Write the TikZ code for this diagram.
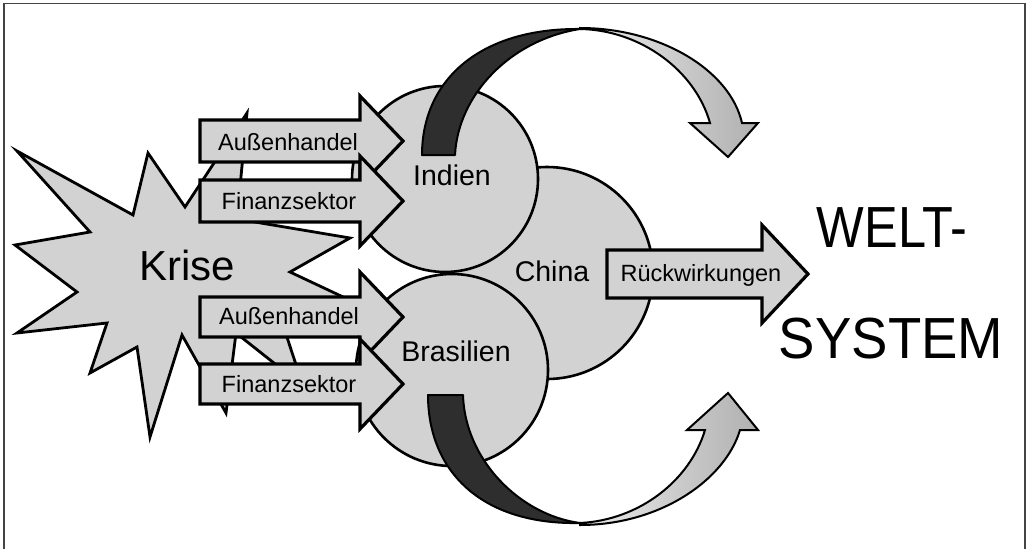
\documentclass[tikz,border=0pt]{standalone}
\usepackage{graphicx}
\usepackage{fontspec}
\setmainfont{Liberation Sans}
\definecolor{lightfill}{HTML}{D2D2D2}
\definecolor{darkband}{HTML}{2E2E2E}
\definecolor{framecol}{HTML}{444444}
\newcommand\blkarrow[6]{%
  \draw[blockarrow] (#1,#4-#5) -- (#2,#4-#5) -- (#2,#4-#6) -- (#3,#4) -- (#2,#4+#6) -- (#2,#4+#5) -- (#1,#4+#5) -- cycle;}
\begin{document}
\begin{tikzpicture}[x=1pt,y=-1pt,
  blob/.style={fill=lightfill,draw=black,line width=2.8pt,line join=miter},
  circ/.style={circle,fill=lightfill,draw=black,line width=2.6pt,inner sep=0pt},
  blockarrow/.style={fill=lightfill,draw=black,line width=3.2pt,line join=miter},
  band/.style={fill=darkband,draw=black,line width=2pt,line join=round},
  grad/.style={left color=gray!15,right color=gray!62,draw=black,line width=2pt,line join=miter},
  lbl/.style={anchor=base,inner sep=0pt,font=\fontsize{23.5}{28}\selectfont},
  clbl/.style={anchor=base,inner sep=0pt,font=\fontsize{28.5}{34}\selectfont},
  big/.style={anchor=base,inner sep=0pt,font=\fontsize{58}{66}\selectfont}]
\useasboundingbox (0,0) rectangle (1032,549);
% frame
\draw[framecol,line width=1.6pt] (4,549) -- (4,3.5) -- (1025,3.5) -- (1025,549);
% star
\draw[blob] (17,151) -- (133,215) -- (148,153) -- (185,207) -- (247,113) -- (237,219)
  -- (350,238) -- (290,272) -- (375,312) -- (282,322) -- (303,386) -- (236,333)
  -- (226,413) -- (182,335) -- (150,437) -- (137,347) -- (90,373) -- (107,323)
  -- (17,333) -- (77,292) -- (15,245) -- (90,232) -- cycle;
% circles
\node[circ,minimum size=212pt] (china) at (547,273) {};
\node[circ,minimum size=186pt] (indien) at (445,179) {};
\node[circ,minimum size=192pt] (brasilien) at (452,370) {};
% curved arrows (top)
\draw[grad] (580,28) .. controls (660,28) and (730,70) .. (742,123) -- (758,123) -- (728,157)
  -- (690,123) -- (710,123) .. controls (695,70) and (640,30) .. (580,29) -- cycle;
\draw[band] (422,155) -- (455,155) .. controls (458,95) and (510,40) .. (580,29)
  .. controls (480,28) and (422,80) .. (422,155) -- cycle;
% curved arrows (bottom)
\draw[grad] (580,525) .. controls (660,525) and (725,480) .. (740,430) -- (758,430) -- (728,393)
  -- (687,430) -- (705,430) .. controls (690,480) and (640,520) .. (580,523) -- cycle;
\draw[band] (428,395) -- (463,395) .. controls (465,460) and (520,515) .. (580,523)
  .. controls (480,525) and (428,470) .. (428,395) -- cycle;
% block arrows
\blkarrow{200}{360}{403}{141}{21}{45}
\blkarrow{200}{360}{403}{201}{21}{45}
\blkarrow{200}{360}{403}{317}{20}{45}
\blkarrow{200}{360}{403}{384}{20}{45}
\blkarrow{607}{762}{808}{274}{24}{49}
% labels
\node[anchor=base,inner sep=0pt,font=\fontsize{42}{48}\selectfont] (krise) at (187,280) {Krise};
\node[lbl] (ah1) at (288,150) {Außenhandel};
\node[lbl] (fs1) at (289,209) {Finanzsektor};
\node[lbl] (ah2) at (289,324) {Außenhandel};
\node[lbl] (fs2) at (289,392) {Finanzsektor};
\node[clbl] (lind) at (452,185) {Indien};
\node[clbl] (lbra) at (456,361) {Brasilien};
\node[clbl] (lchi) at (552,281) {China};
\node[lbl] (rw) at (701,281) {Rückwirkungen};
\node[big] (welt) at (892,247) {\scalebox{0.87}[1]{WELT-}};
\node[big] (system) at (891,358) {\scalebox{0.94}[1]{SYSTEM}};
\end{tikzpicture}
\end{document}
